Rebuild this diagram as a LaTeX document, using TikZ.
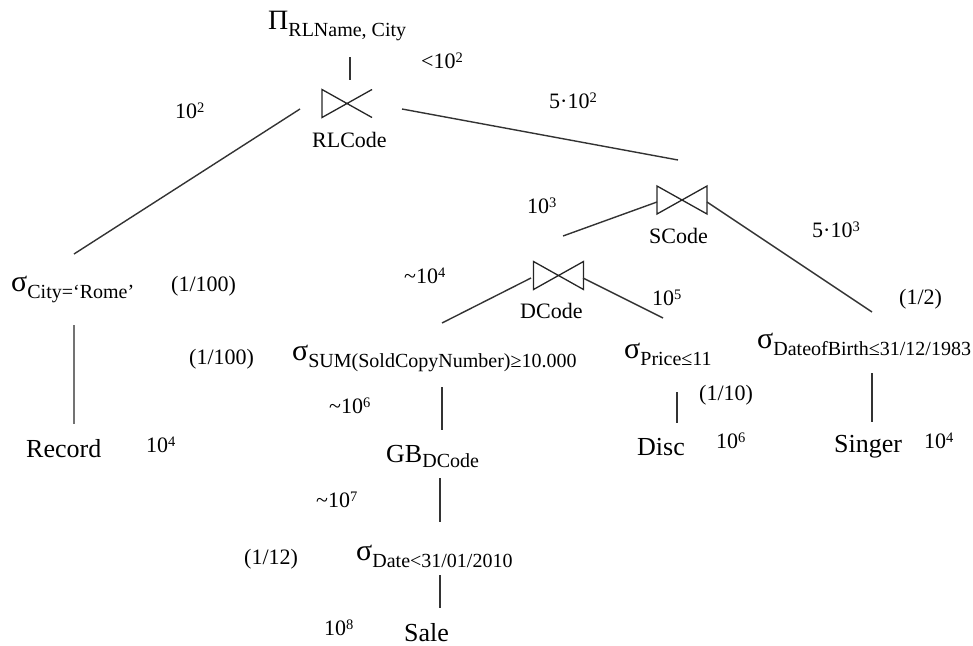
\documentclass[tikz,border=0pt]{standalone}
\usepackage{fontspec}
\setmainfont{Liberation Serif}
\newcommand{\supr}[1]{\raisebox{6pt}{\fontsize{14.5}{14.5}\selectfont #1}}
\newcommand{\opsub}[2]{{\fontsize{30}{30}\selectfont #1}\raisebox{-7pt}{\fontsize{20}{20}\selectfont #2}}
\tikzset{
  edge/.style={line width=1.4pt, draw=black!80},
  lbl/.style={anchor=base west, inner sep=0pt, font=\fontsize{22}{22}\selectfont},
  main/.style={anchor=base west, inner sep=0pt, font=\fontsize{26}{26}\selectfont},
  op/.style={anchor=base west, inner sep=0pt},
  joinsym/.pic={\draw[line width=1.3pt, draw=black!85] (-25,-14) -- (-25,14) -- (25,-14) -- (25,14) -- cycle;},
  joinopen/.pic={\draw[line width=1.3pt, draw=black!85] (25,-14) -- (-25,14) -- (-25,-14) -- (25,14);}
}
\begin{document}
\begin{tikzpicture}[x=1pt,y=-1pt]
\useasboundingbox (0,0) rectangle (973,645);
% operators
\node[op] (pi) at (268,29) {{\fontsize{28}{28}\selectfont Π}\raisebox{-7pt}{\fontsize{20}{20}\selectfont RLName, City}};
\pic (j1) at (347,103.5) {joinopen};
\node[lbl] (j1lab) at (312,147) {RLCode};
\pic (j2) at (682,200) {joinsym};
\node[lbl] (j2lab) at (649,243) {SCode};
\pic (j3) at (558.5,275.5) {joinsym};
\node[lbl] (j3lab) at (520,318) {DCode};
\node[op] (scity) at (11,291) {\opsub{σ}{City=‘Rome’}};
\node[op] (ssum) at (292,360) {\opsub{σ}{SUM(SoldCopyNumber)≥10.000}};
\node[main] (gb) at (386,462) {GB\raisebox{-5pt}{\fontsize{20}{20}\selectfont DCode}};
\node[op] (sdate) at (356,560) {\opsub{σ}{Date<31/01/2010}};
\node[op] (sprice) at (624,358) {\opsub{σ}{Price≤11}};
\node[op] (sdob) at (757,348) {\opsub{σ}{DateofBirth≤31/12/1983}};
\node[main] (record) at (26,457) {Record};
\node[main] (sale) at (404,641) {Sale};
\node[main] (disc) at (637,455) {Disc};
\node[main] (singer) at (834,452) {Singer};
% labels
\node[lbl] (c0) at (421,68) {<10\supr{2}};
\node[lbl] (c1) at (175,118) {10\supr{2}};
\node[lbl] (c2) at (549,108) {5·10\supr{2}};
\node[lbl] (c3) at (527,213) {10\supr{3}};
\node[lbl] (c4) at (812,237) {5·10\supr{3}};
\node[lbl] (c5) at (404,283) {\textasciitilde 10\supr{4}};
\node[lbl] (c6) at (652,305) {10\supr{5}};
\node[lbl] (c7) at (171,291) {(1/100)};
\node[lbl] (c8) at (189,364) {(1/100)};
\node[lbl] (c9) at (899,304) {(1/2)};
\node[lbl] (c10) at (699,400) {(1/10)};
\node[lbl] (c11) at (329,413) {\textasciitilde 10\supr{6}};
\node[lbl] (c12) at (316,507) {\textasciitilde 10\supr{7}};
\node[lbl] (c13) at (244,564) {(1/12)};
\node[lbl] (c14) at (324,635) {10\supr{8}};
\node[lbl] (c15) at (146,452) {10\supr{4}};
\node[lbl] (c16) at (716,448) {10\supr{6}};
\node[lbl] (c17) at (924,448) {10\supr{4}};
% connector end points
\coordinate (pib) at (350,57);  \coordinate (j1t) at (350,80);
\coordinate (j1l) at (300,109); \coordinate (j1le) at (74,254);
\coordinate (j1r) at (402,109); \coordinate (j1re) at (678,160);
\coordinate (j2l) at (657,202); \coordinate (j2le) at (563,236);
\coordinate (j2r) at (707,202); \coordinate (j2re) at (872,312);
\coordinate (j3l) at (531,278); \coordinate (j3le) at (442,323);
\coordinate (j3r) at (583,278); \coordinate (j3re) at (663,318);
\coordinate (rct) at (74,325);  \coordinate (rcb) at (74,424);
\coordinate (sumb) at (442,387); \coordinate (gbt) at (442,430);
\coordinate (gbb) at (440,478); \coordinate (dtt) at (440,522);
\coordinate (dtb) at (440,575); \coordinate (slt) at (440,608);
\coordinate (prb) at (677,392); \coordinate (dct) at (677,423);
\coordinate (dbb) at (872,373); \coordinate (sgt) at (872,422);
% connectors
\draw[edge] (pib) -- (j1t);
\draw[edge] (j1l) -- (j1le);
\draw[edge] (j1r) -- (j1re);
\draw[edge] (j2l) -- (j2le);
\draw[edge] (j2r) -- (j2re);
\draw[edge] (j3l) -- (j3le);
\draw[edge] (j3r) -- (j3re);
\draw[edge, line width=2.2pt, draw=black!55] (rct) -- (rcb);
\draw[edge] (sumb) -- (gbt);
\draw[edge] (gbb) -- (dtt);
\draw[edge] (dtb) -- (slt);
\draw[edge] (prb) -- (dct);
\draw[edge] (dbb) -- (sgt);
\end{tikzpicture}
\end{document}
